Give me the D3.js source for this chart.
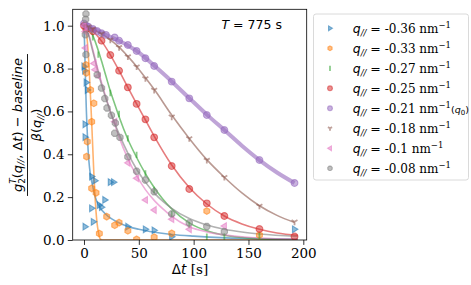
<!DOCTYPE html>
<html>
<head>
<meta charset="utf-8">
<script src="https://cdn.jsdelivr.net/npm/d3@7"></script>
<style>
  body { margin: 0; background: #fff; }
  svg { display: block; }
  .tick text { font-family: "DejaVu Serif", serif; font-size: 13.5px; fill: #000; }
</style>
</head>
<body>
<svg id="chart"></svg>
<script>
// measured points [dt (s), normalised g2]
var ptsBlue = [[0,0.81],[0.6,0.79],[2,0.735],[3,0.70],[1,0.54],[1,0.48],[7,0.296],[10,0.277],[24,0.27],[27,0.27],[19,0.187],[14,0.163],[7,0.148],[16,0.153],[8.5,0.085],[1,0.062],[40,0.062],[56,0.05],[64,0.045],[80,0.015],[192,0.05]];
var ptsOrange = [[1.8,0.817],[2.2,0.78],[6,0.70],[9,0.638],[7,0.552],[3,0.459],[2.4,0.389],[7,0.241],[11,0.22],[20.7,0.109],[14,0.03],[28,0.069],[32,0.081],[40,0.043],[48,0.003],[64,0.013],[80,0.031],[112,0.135],[160,0.023]];
var ptsGreen = [[0,1.0],[4,0.985],[8,0.946],[13,0.865],[24,0.686],[32,0.588],[40,0.474],[48,0.397],[56,0.311],[64,0.233],[80,0.121],[96,0.07],[112,0.015],[128,0.016],[160,0.02]];
var ptsRed = [[0,1.0],[2,0.985],[8,0.974],[16,0.93],[24,0.863],[32,0.79],[40,0.712],[48,0.635],[56,0.563],[64,0.479],[80,0.345],[96,0.238],[112,0.171],[128,0.112],[160,0.051],[192,0.016]];
var ptsPurple = [[0,1.01],[2,1.0],[4,0.995],[8,0.985],[12,0.975],[16,0.965],[20,0.957],[28,0.945],[32,0.93],[40,0.91],[48,0.882],[56,0.848],[64,0.812],[80,0.739],[96,0.661],[112,0.583],[128,0.513],[160,0.373],[192,0.266]];
var ptsBrown = [[0,1.0],[4,0.995],[8,0.985],[16,0.962],[24,0.934],[32,0.899],[40,0.856],[48,0.809],[56,0.754],[64,0.70],[80,0.575],[96,0.474],[112,0.373],[128,0.293],[160,0.159],[192,0.085]];
var ptsPink = [[0,1.0],[1,0.972],[1.2,0.896],[9,0.824],[13,0.765],[10,0.795],[28,0.552],[40,0.36],[48,0.288],[56,0.187],[64,0.14],[80,0.097],[96,0.05],[128,0.065]];
var ptsGray = [[1.8,1.055],[1.5,1.03],[1.2,0.958],[1.8,0.865],[12,0.771],[16,0.709],[19,0.66],[21,0.616],[25,0.582],[28.6,0.546],[28,0.498],[32.8,0.479],[40,0.388],[48,0.321],[56,0.28],[64,0.225],[80,0.122],[96,0.08],[112,0.063],[128,0.039]];

// fitted curves [dt, value]
var fitBlue = [[0,1.0],[0.5,0.92],[1,0.82],[1.5,0.72],[2,0.63],[3,0.5],[4,0.4],[5,0.34],[6,0.3],[8,0.25],[10,0.205],[13,0.165],[17,0.135],[22,0.11],[30,0.085],[40,0.063],[50,0.05],[60,0.04],[80,0.026],[100,0.018],[130,0.01],[160,0.006],[195,0.003]];
var fitOrange = [[0,1.0],[2,0.98],[3,0.93],[4,0.86],[5,0.77],[6,0.66],[7,0.55],[8,0.43],[9,0.31],[10,0.21],[11,0.13],[12,0.075],[13,0.04],[14,0.015],[15,0.004],[17,0],[195,0]];
var fitGreen = [[0,1.0],[4,0.99],[8,0.955],[12,0.9],[16,0.835],[20,0.765],[24,0.695],[28,0.635],[32,0.575],[40,0.47],[48,0.385],[56,0.31],[64,0.245],[72,0.19],[80,0.145],[96,0.08],[112,0.043],[128,0.022],[144,0.012],[160,0.006],[195,0.002]];
var fitRed = [[0,1.0],[8,0.975],[16,0.928],[24,0.864],[32,0.79],[40,0.712],[48,0.635],[56,0.56],[64,0.485],[80,0.35],[96,0.245],[112,0.168],[128,0.112],[144,0.075],[160,0.05],[176,0.033],[195,0.022]];
var fitPurple = [[0,1.0],[8,0.988],[16,0.968],[24,0.948],[32,0.93],[40,0.908],[48,0.882],[56,0.85],[64,0.814],[80,0.74],[96,0.662],[112,0.585],[128,0.513],[144,0.44],[160,0.373],[176,0.315],[192,0.266]];
var fitBrown = [[0,1.0],[8,0.985],[16,0.962],[24,0.934],[32,0.9],[40,0.857],[48,0.81],[56,0.757],[64,0.703],[80,0.583],[96,0.474],[112,0.375],[128,0.293],[144,0.22],[160,0.16],[176,0.115],[192,0.082]];
var fitPink = [[0,1.0],[4,0.965],[8,0.89],[12,0.81],[16,0.735],[20,0.665],[24,0.6],[28,0.54],[32,0.48],[40,0.38],[48,0.3],[56,0.235],[64,0.185],[72,0.145],[80,0.11],[96,0.062],[112,0.038],[128,0.024],[144,0.015],[160,0.009],[195,0.004]];
var fitGray = [[0,1.0],[4,0.96],[8,0.88],[12,0.8],[16,0.725],[20,0.66],[24,0.6],[28,0.545],[32,0.495],[40,0.405],[48,0.33],[56,0.27],[64,0.22],[72,0.18],[80,0.148],[96,0.1],[112,0.07],[128,0.05],[144,0.037],[160,0.028],[195,0.017]];

var qLabels = ["-0.36", "-0.33", "-0.27", "-0.25", "-0.21", "-0.18", "-0.1", "-0.08"];
var colors = ["#1f77b4", "#ff7f0e", "#2ca02c", "#d62728", "#9467bd", "#8c564b", "#e377c2", "#7f7f7f"];
var markers = ["tri-right", "hexagon", "vline", "circle", "circle", "tri-down", "tri-left", "octagon"];
var xTicks = [0, 50, 100, 150, 200];
var yTicks = [0, 0.2, 0.4, 0.6, 0.8, 1.0];

var points = [ptsBlue, ptsOrange, ptsGreen, ptsRed, ptsPurple, ptsBrown, ptsPink, ptsGray];
var fits = [fitBlue, fitOrange, fitGreen, fitRed, fitPurple, fitBrown, fitPink, fitGray];

var W = 471, H = 285;
var svg = d3.select("#chart").attr("width", W).attr("height", H);

var x = d3.scaleLinear().domain([-10.3, 203.1]).range([72.7, 306.7]);
var y = d3.scaleLinear().domain([0, 1.0765]).range([240, 9.3]);

// marker path generator, r = half size
function markerPath(kind, r) {
  var p = d3.path(), i, a;
  if (kind == "circle") { p.arc(0, 0, r, 0, 2 * Math.PI); p.closePath(); }
  else if (kind == "tri-right") { p.moveTo(r, 0); p.lineTo(-r * 0.6, -r); p.lineTo(-r * 0.6, r); p.closePath(); }
  else if (kind == "tri-left") { p.moveTo(-r, 0); p.lineTo(r * 0.6, -r); p.lineTo(r * 0.6, r); p.closePath(); }
  else if (kind == "hexagon" || kind == "octagon") {
    var n = kind == "hexagon" ? 6 : 8;
    for (i = 0; i < n; i++) {
      a = (i / n) * 2 * Math.PI + (kind == "hexagon" ? -Math.PI / 2 : Math.PI / 8);
      if (i == 0) p.moveTo(r * Math.cos(a), r * Math.sin(a)); else p.lineTo(r * Math.cos(a), r * Math.sin(a));
    }
    p.closePath();
  }
  else if (kind == "vline") { p.moveTo(0, -r); p.lineTo(0, r); }
  else if (kind == "tri-down") {
    p.moveTo(0, 0); p.lineTo(0, r);
    p.moveTo(0, 0); p.lineTo(-r * 0.866, -r * 0.5);
    p.moveTo(0, 0); p.lineTo(r * 0.866, -r * 0.5);
  }
  return p.toString();
}

function drawMarker(sel, kind, color, r) {
  var strokeOnly = kind == "vline" || kind == "tri-down";
  sel.append("path")
    .attr("d", markerPath(kind, r))
    .attr("fill", strokeOnly ? "none" : color)
    .attr("fill-opacity", 0.5)
    .attr("stroke", color)
    .attr("stroke-opacity", 0.55)
    .attr("stroke-width", strokeOnly ? 1.8 : 1.1);
}

var plot = svg.append("g");
svg.append("clipPath").attr("id", "clip")
  .append("rect").attr("x", 72.7).attr("y", 9.3).attr("width", 234).attr("height", 230.7);

var line = d3.line()
  .x(function(d) { return x(d[0]); })
  .y(function(d) { return y(d[1]); })
  .curve(d3.curveMonotoneX);

var layer = plot.append("g").attr("clip-path", "url(#clip)");

fits.forEach(function(f, i) {
  layer.append("path")
    .attr("d", line(f))
    .attr("fill", "none")
    .attr("stroke", colors[i])
    .attr("stroke-opacity", 0.6)
    .attr("stroke-width", i == 4 ? 4 : 1.6);
});

points.forEach(function(pts, i) {
  pts.forEach(function(d) {
    var g = layer.append("g").attr("transform", "translate(" + x(d[0]) + "," + y(d[1]) + ")");
    drawMarker(g, markers[i], colors[i], markers[i] == "vline" ? 3.2 : 3.4);
  });
});

// frame
plot.append("rect")
  .attr("x", 72.7).attr("y", 9.3).attr("width", 234).attr("height", 230.7)
  .attr("fill", "none").attr("stroke", "#000").attr("stroke-width", 0.8);

var xAxis = svg.append("g").attr("transform", "translate(0,240)")
  .call(d3.axisBottom(x).tickValues(xTicks).tickSize(4.9).tickPadding(3.2).tickFormat(d3.format("d")));
var yAxis = svg.append("g").attr("transform", "translate(72.7,0)")
  .call(d3.axisLeft(y).tickValues(yTicks).tickSize(4.9).tickPadding(3.2).tickFormat(d3.format(".1f")));
[xAxis, yAxis].forEach(function(a) {
  a.select(".domain").remove();
  a.selectAll(".tick line").attr("stroke", "#000").attr("stroke-width", 0.8);
});

// text helper: list of [text, family, italic, dy, size, dx]
function richText(el, parts) {
  parts.forEach(function(p) {
    el.append("tspan")
      .attr("font-family", p[1] == "serif" ? "DejaVu Serif" : "DejaVu Sans")
      .attr("font-style", p[2] ? "italic" : "normal")
      .attr("dy", p[3] || 0)
      .attr("dx", p[5] || 0)
      .attr("font-size", p[4])
      .text(p[0]);
  });
  return el;
}

// title
richText(svg.append("text").attr("x", 221.5).attr("y", 28.5),
  [["T", "sans", true, 0, 12.5], [" = 775 s", "sans", false, 0, 12.5]]);

// x label
richText(svg.append("text").attr("x", 190).attr("y", 273.5).attr("text-anchor", "middle"),
  [["Δ", "sans", false, 0, 13.5], ["t", "sans", true, 0, 13.5], [" [s]", "serif", false, 0, 13.5]]);

// y label as a fraction
var yl = svg.append("g").attr("transform", "translate(27.5,125) rotate(-90)");
var num = richText(yl.append("text").attr("x", 0).attr("y", -6).attr("text-anchor", "middle"),
  [["g", "sans", true, 0, 13], ["2", "sans", false, 3, 9], ["T", "sans", true, -8.5, 9, -5.7], ["(", "sans", false, 5.5, 13],
   ["q", "sans", true, 0, 13], ["//", "sans", true, 2.5, 9], [", Δ", "sans", false, -2.5, 13], ["t", "sans", true, 0, 13],
   [") − ", "sans", false, 0, 13], ["baseline", "sans", true, 0, 13]]);
var numW = num.node().getComputedTextLength();
yl.append("line").attr("x1", -numW / 2 - 1).attr("x2", numW / 2 + 1).attr("y1", 0).attr("y2", 0)
  .attr("stroke", "#000").attr("stroke-width", 0.9);
richText(yl.append("text").attr("x", 0).attr("y", 13).attr("text-anchor", "middle"),
  [["β", "sans", true, 0, 13], ["(", "sans", false, 0, 13], ["q", "sans", true, 0, 13],
   ["//", "sans", true, 3, 9], [")", "sans", false, -3, 13]]);

// legend
var lg = svg.append("g");
lg.append("rect").attr("x", 313.5).attr("y", 14).attr("width", 155).attr("height", 166)
  .attr("rx", 2.5).attr("fill", "#fff").attr("stroke", "#d6d6d6").attr("stroke-width", 0.9);
qLabels.forEach(function(q, i) {
  var yy = 28.3 + 20 * i;
  var g = lg.append("g").attr("transform", "translate(330," + yy + ")");
  drawMarker(g, markers[i], colors[i], markers[i] == "vline" ? 2.6 : 2.4);
  var parts = [["q", "sans", true, 0, 12.5], ["//", "sans", true, 3, 8.5], [" = ", "sans", false, -3, 12.5],
    [q + " nm", "serif", false, 0, 12], ["−1", "serif", false, -5, 8.5]];
  if (i == 4) parts.push(["(", "sans", false, 5, 9.5], ["q", "sans", true, 0, 9.5], ["0", "sans", false, 2, 7], [")", "sans", false, -2, 9.5]);
  richText(lg.append("text").attr("x", 352.7).attr("y", yy + 4.5), parts);
});
</script>
</body>
</html>
